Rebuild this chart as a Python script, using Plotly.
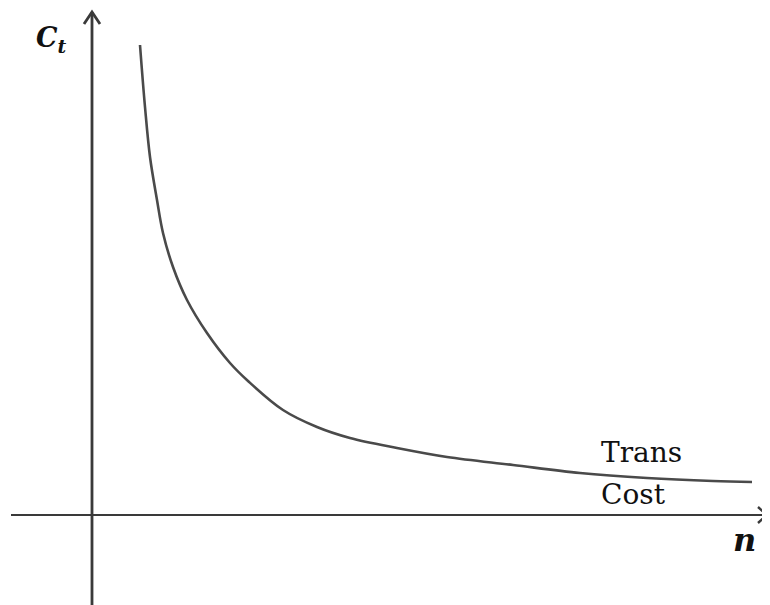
import plotly.graph_objects as go

# Curve (n, transaction cost)
n_vals = [4.8, 5.3, 5.8, 6.5, 7.1, 8.1, 9.5, 11.5, 13.8, 15.6, 19.1, 22.5, 25.8, 30.5, 35.5, 42.1, 48.8, 55.5, 62.1, 66.0]
cost_vals = [47.0, 40.8, 35.8, 31.5, 28.2, 24.8, 21.5, 18.2, 15.2, 13.4, 10.5, 8.8, 7.7, 6.7, 5.8, 5.0, 4.2, 3.7, 3.4, 3.3]

curve_label = ["Trans", "Cost"]
x_label = "n"
y_label = "C"
y_sub = "t"

# axis extents (data units)
X_MIN, X_MAX = -8.4, 67.8
Y_MIN, Y_MAX = -9.0, 50.7
X_AXIS_START, X_AXIS_END = -8.1, 67.5
Y_AXIS_START, Y_AXIS_END = -9.0, 50.3
axis_color = "#3a3a3a"

fig = go.Figure()
fig.add_trace(go.Scatter(x=n_vals, y=cost_vals, mode="lines",
                         line=dict(color="#4a4a4a", width=2.6, shape="spline", smoothing=1.0),
                         hoverinfo="skip", showlegend=False))

# axes lines
fig.add_shape(type="line", x0=X_AXIS_START, x1=X_AXIS_END, y0=0, y1=0, xref="x", yref="y",
              line=dict(color=axis_color, width=2))
fig.add_shape(type="line", x0=0, x1=0, y0=Y_AXIS_START, y1=Y_AXIS_END, xref="x", yref="y",
              line=dict(color=axis_color, width=2.8))
# arrowheads (open chevrons, pixel-sized)
fig.add_shape(type="path", xref="x", yref="y", xsizemode="pixel", ysizemode="pixel",
              xanchor=X_AXIS_END, yanchor=0, path="M -9,8 L 0,0 L -9,-8",
              line=dict(color=axis_color, width=2.4))
fig.add_shape(type="path", xref="x", yref="y", xsizemode="pixel", ysizemode="pixel",
              xanchor=0, yanchor=Y_AXIS_END, path="M -8,-12 L 0,0 L 8,-12",
              line=dict(color=axis_color, width=2.8))

fig.add_annotation(x=-4.1, y=47.6, xref="x", yref="y", showarrow=False,
                   text=f"<b><i>{y_label}</i></b><sub><b><i>{y_sub}</i></b></sub>",
                   font=dict(family="DejaVu Serif", size=27, color="#111"))
fig.add_annotation(x=65.2, y=-2.5, xref="x", yref="y", showarrow=False,
                   text=f"<b><i>{x_label}</i></b>",
                   font=dict(family="DejaVu Serif", size=32, color="#111"))
for lbl, yy in zip(curve_label, [6.3, 2.1]):
    fig.add_annotation(x=50.7, y=yy, xref="x", yref="y", showarrow=False, xanchor="left",
                       text=lbl, font=dict(family="DejaVu Serif", size=28, color="#111"))

fig.update_layout(width=762, height=597, margin=dict(l=0, r=0, t=0, b=0),
                  paper_bgcolor="white", plot_bgcolor="white")
fig.update_xaxes(range=[X_MIN, X_MAX], visible=False)
fig.update_yaxes(range=[Y_MIN, Y_MAX], visible=False)
fig.write_html("out.html")
